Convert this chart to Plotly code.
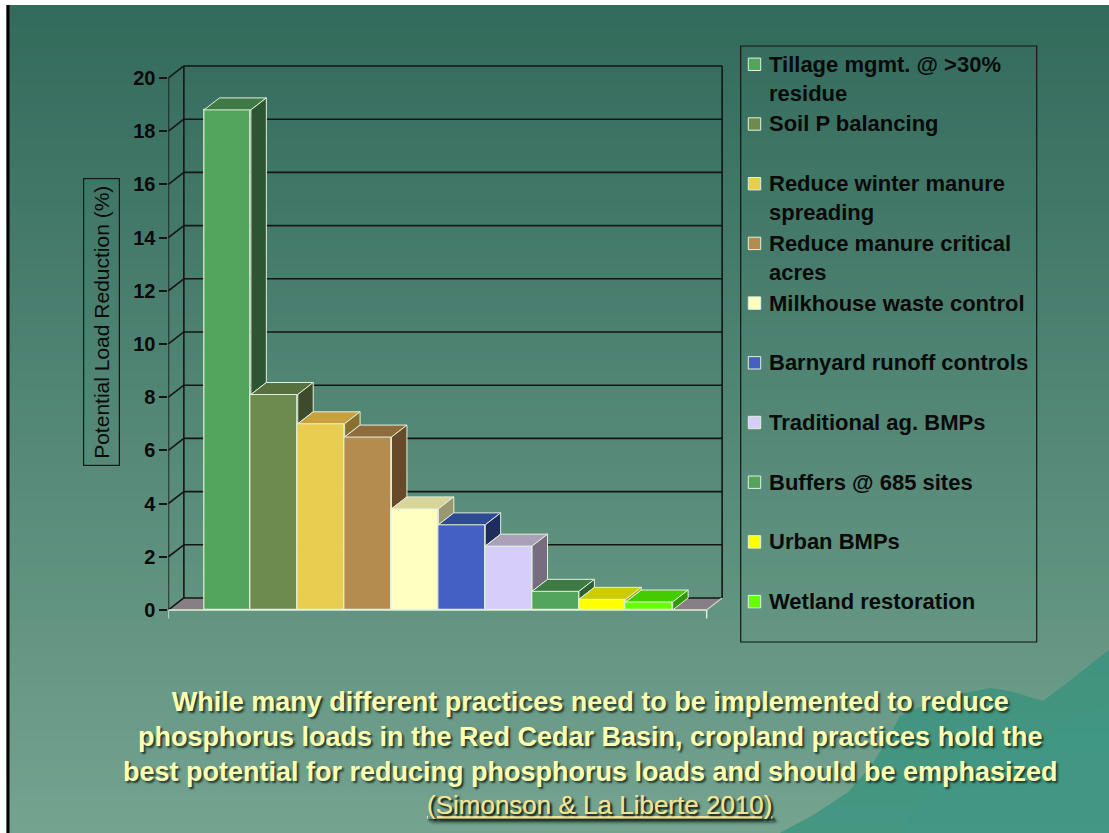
import plotly.graph_objects as go

# ---------------------------------------------------------------- data
practices = [
    "Tillage mgmt. @ >30% residue",
    "Soil P balancing",
    "Reduce winter manure spreading",
    "Reduce manure critical acres",
    "Milkhouse waste control",
    "Barnyard runoff controls",
    "Traditional ag. BMPs",
    "Buffers @ 685 sites",
    "Urban BMPs",
    "Wetland restoration",
]
legend_labels = [
    "Tillage mgmt. @ >30%<br>residue",
    "Soil P balancing",
    "Reduce winter manure<br>spreading",
    "Reduce manure critical<br>acres",
    "Milkhouse waste control",
    "Barnyard runoff controls",
    "Traditional ag. BMPs",
    "Buffers @ 685 sites",
    "Urban BMPs",
    "Wetland restoration",
]
reduction_pct = [18.8, 8.1, 7.0, 6.5, 3.8, 3.2, 2.4, 0.7, 0.4, 0.3]
y_ticks = [0, 2, 4, 6, 8, 10, 12, 14, 16, 18, 20]

y_title = "Potential Load Reduction (%)"
caption = ("While many different practices need to be implemented to reduce<br>"
           "phosphorus loads in the Red Cedar Basin, cropland practices hold the<br>"
           "best potential for reducing phosphorus loads and should be emphasized")
citation = "(Simonson & La Liberte 2010)"

# ---------------------------------------------------------------- styles
front_colors = ["#52a55a", "#6e8b4f", "#e8cd50", "#b58c50", "#ffffc0",
                "#4460c4", "#d6cdfb", "#52a55a", "#ffff00", "#66ff00"]
top_colors = ["#3f7a45", "#56703e", "#c8a040", "#8f6a3a", "#d8d49a",
              "#2f4a94", "#aaa0b8", "#3f7a45", "#cccc00", "#44cc00"]
side_colors = ["#2e5531", "#3d4a2c", "#8a7030", "#664a2a", "#999870",
               "#1e2d5e", "#776d80", "#2f5f35", "#a8a800", "#339900"]
edge_color = "#e2f2dc"
wall_color = "#151515"
floor_color = "#867f86"
FONT = "Arial, 'Liberation Sans', sans-serif"

W, H = 1109, 833

# axis geometry (front plane) and the 3-D depth offset in data units
X_RANGE = [-1.26, 10.58]
Y_RANGE = [-0.4, 20.6]
X_DOMAIN_PX = [168.4, 723.3]
Y_DOMAIN_PX = [62.0, 620.6]          # top, bottom in pixels
DX, DY = 0.33, 0.45
X_FRONT_MIN, X_FRONT_MAX = -1.26, 10.225
Y_TOP = y_ticks[-1]


def px(x):
    return x / W


def py(y):
    return 1 - y / H


fig = go.Figure()

# ---------------------------------------------------------------- bars (front faces)
n = len(reduction_pct)
fig.add_trace(go.Bar(
    x=list(range(n)), y=reduction_pct, width=1,
    marker=dict(color=front_colors, line=dict(color=edge_color, width=1.2)),
    hovertext=practices, showlegend=False,
))

# top and side faces of each bar
for i, v in enumerate(reduction_pct):
    nxt = reduction_pct[i + 1] if i + 1 < n else 0.0
    fig.add_trace(go.Scatter(
        x=[i - 0.5, i + 0.5, i + 0.5 + DX, i - 0.5 + DX, i - 0.5],
        y=[v, v, v + DY, v + DY, v],
        mode="lines", fill="toself", fillcolor=top_colors[i],
        line=dict(color=edge_color, width=1), hoverinfo="skip", showlegend=False,
    ))
    lo = min(nxt, v)
    if lo < v:
        fig.add_trace(go.Scatter(
            x=[i + 0.5, i + 0.5 + DX, i + 0.5 + DX, i + 0.5, i + 0.5],
            y=[lo, lo + DY, v + DY, v, lo],
            mode="lines", fill="toself", fillcolor=side_colors[i],
            line=dict(color=edge_color, width=1), hoverinfo="skip", showlegend=False,
        ))

shapes = []

# ---------------------------------------------------------------- slide background
top_rgb = (50, 106, 91)
bot_rgb = (116, 163, 144)
bands = 90
for k in range(bands):
    t = k / (bands - 1)
    c = tuple(round(a + (b - a) * t) for a, b in zip(top_rgb, bot_rgb))
    shapes.append(dict(type="rect", xref="paper", yref="paper", layer="below",
                       x0=0, x1=1, y0=py(H * (k + 1) / bands + 1), y1=py(H * k / bands),
                       fillcolor="rgb(%d,%d,%d)" % c, line=dict(width=0)))

# mountain silhouette in the lower right corner
ridge = [(780, 833), (815, 814), (848, 792), (872, 765), (890, 735), (900, 716),
         (940, 698), (990, 688), (1010, 691), (1043, 701), (1067, 683),
         (1087, 667), (1109, 650), (1109, 833)]
path = "M " + " L ".join("%.4f,%.4f" % (px(a), py(b)) for a, b in ridge) + " Z"
shapes.append(dict(type="path", xref="paper", yref="paper", layer="below", path=path,
                   fillcolor="rgba(50,146,124,0.7)", line=dict(width=0)))
ridge2 = [(900, 833), (930, 785), (960, 752), (1000, 738), (1040, 746), (1070, 720),
          (1109, 705), (1109, 833)]
path2 = "M " + " L ".join("%.4f,%.4f" % (px(a), py(b)) for a, b in ridge2) + " Z"
shapes.append(dict(type="path", xref="paper", yref="paper", layer="below", path=path2,
                   fillcolor="rgba(60,156,134,0.35)", line=dict(width=0)))

# ---------------------------------------------------------------- chart walls
xb0, xb1 = X_FRONT_MIN + DX, X_FRONT_MAX + DX
floor_path = "M %f,0 L %f,0 L %f,%f L %f,%f Z" % (
    X_FRONT_MIN, X_FRONT_MAX, xb1, DY, xb0, DY)
shapes.append(dict(type="path", xref="x", yref="y", layer="below", path=floor_path,
                   fillcolor=floor_color, line=dict(width=0)))


def seg(x0, y0, x1, y1, color=wall_color, width=1.6):
    shapes.append(dict(type="line", xref="x", yref="y", layer="below",
                       x0=x0, y0=y0, x1=x1, y1=y1, line=dict(color=color, width=width)))


for v in y_ticks:
    seg(xb0, v + DY, xb1, v + DY)                 # back-wall gridline
    seg(X_FRONT_MIN, v, xb0, v + DY)              # side-wall diagonal
seg(xb0, DY, xb0, Y_TOP + DY)                     # back wall left edge
seg(xb1, DY, xb1, Y_TOP + DY)                     # back wall right edge
seg(X_FRONT_MIN, 0, X_FRONT_MIN, Y_TOP)           # front value axis
# light floor front edge with end ticks
seg(X_FRONT_MIN, 0, X_FRONT_MAX, 0, edge_color, 1.6)
seg(X_FRONT_MIN, 0, X_FRONT_MIN, -0.32, edge_color, 1.4)
seg(X_FRONT_MAX, 0, X_FRONT_MAX, -0.32, edge_color, 1.4)
seg(X_FRONT_MAX, 0, xb1, DY, "#c9d6c9", 1.2)

# ---------------------------------------------------------------- legend box and swatches
annotations = []
LEG_X0, LEG_X1, LEG_Y0, LEG_Y1 = 740.7, 1036.7, 46, 642
shapes.append(dict(type="rect", xref="paper", yref="paper",
                   x0=px(LEG_X0), x1=px(LEG_X1), y0=py(LEG_Y1), y1=py(LEG_Y0),
                   line=dict(color=wall_color, width=1.2), fillcolor="rgba(0,0,0,0)"))
first_line_y = 64.3
row_step = 59.7
line_h = 28.6
for i, lab in enumerate(legend_labels):
    yc = first_line_y + i * row_step
    shapes.append(dict(type="rect", xref="paper", yref="paper",
                       x0=px(748.3), x1=px(760.7), y0=py(yc + 6.2), y1=py(yc - 6.2),
                       fillcolor=front_colors[i], line=dict(color=edge_color, width=1)))
    nlines = lab.count("<br>") + 1
    annotations.append(dict(
        text=lab, xref="paper", yref="paper", x=px(767.0), y=py(yc + (nlines - 1) * line_h / 2),
        xanchor="left", yanchor="middle", align="left", showarrow=False,
        font=dict(family=FONT, size=22, color="#0a0a0a", weight="bold"),
    ))

# ---------------------------------------------------------------- axis title and captions
annotations.append(dict(
    text=y_title, xref="paper", yref="paper", x=px(101.5), y=py(322.5),
    textangle=-90, showarrow=False, xanchor="center", yanchor="middle",
    bordercolor=wall_color, borderwidth=1.2, borderpad=6,
    font=dict(family=FONT, size=21, color="#0a0a0a"),
))
annotations.append(dict(
    text=caption, xref="paper", yref="paper", x=px(590), y=py(737),
    xanchor="center", yanchor="middle", align="center", showarrow=False,
    font=dict(family=FONT, size=27, color="#ffffb2", weight="bold",
              shadow="2px 2px 2px rgba(20,40,30,0.85)"),
))
annotations.append(dict(
    text=citation, xref="paper", yref="paper", x=px(599), y=py(805),
    xanchor="center", yanchor="middle", showarrow=False,
    font=dict(family=FONT, size=26, color="#f2e394", lineposition="under",
              shadow="2px 2px 2px rgba(20,40,30,0.85)"),
))

# ---------------------------------------------------------------- slide edges
shapes.append(dict(type="rect", xref="paper", yref="paper", x0=0, x1=1,
                   y0=py(5), y1=1, fillcolor="white", line=dict(width=0)))
shapes.append(dict(type="rect", xref="paper", yref="paper", x0=0, x1=px(6.5),
                   y0=0, y1=1, fillcolor="white", line=dict(width=0)))
shapes.append(dict(type="rect", xref="paper", yref="paper", x0=px(6.5), x1=px(9.5),
                   y0=0, y1=py(5), fillcolor="black", line=dict(width=0)))

fig.update_layout(
    width=W, height=H, template="none",
    margin=dict(l=0, r=0, t=0, b=0, autoexpand=False),
    paper_bgcolor="white", plot_bgcolor="rgba(0,0,0,0)",
    showlegend=False, bargap=0,
    shapes=shapes, annotations=annotations,
    xaxis=dict(range=X_RANGE, domain=[px(X_DOMAIN_PX[0]), px(X_DOMAIN_PX[1])],
               visible=False, automargin=False, fixedrange=True),
    yaxis=dict(range=Y_RANGE, domain=[py(Y_DOMAIN_PX[1]), py(Y_DOMAIN_PX[0])],
               tickvals=y_ticks, ticks="outside", ticklen=8, tickwidth=1.6,
               tickcolor=wall_color, showline=False, showgrid=False, zeroline=False,
               automargin=False, fixedrange=True,
               tickfont=dict(family=FONT, size=20, color="#0a0a0a", weight="bold")),
)

fig.write_html("out.html")
